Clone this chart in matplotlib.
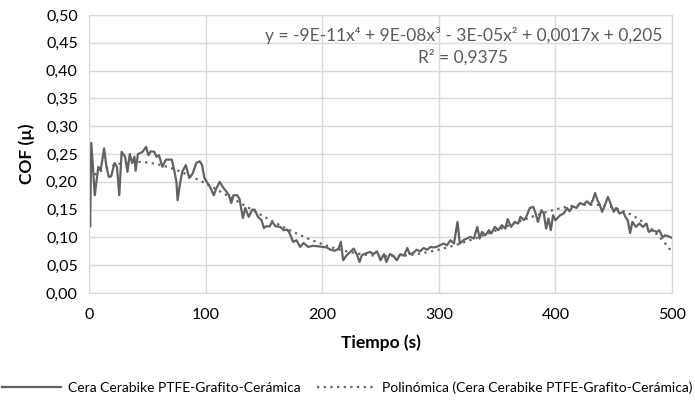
import numpy as np
import matplotlib
matplotlib.use("Agg")
import matplotlib.pyplot as plt
from matplotlib.ticker import FuncFormatter

plt.rcParams['font.family'] = ['Lato', 'DejaVu Sans']

# datos
tiempo = [0, 1, 2, 5, 8, 10, 13, 15, 17, 19, 22, 24, 26, 28, 31, 33, 35, 37, 39, 40,
          42, 46, 49, 51, 53, 56, 58, 60, 63, 66, 71, 73, 75, 76, 78, 80, 83, 86, 89, 92,
          95, 97, 99, 101, 104, 107, 109, 112, 115, 118, 120, 122, 124, 127, 129, 132, 134, 137, 140, 142,
          145, 148, 150, 152, 155, 157, 160, 164, 167, 170, 172, 175, 178, 181, 184, 188, 192, 197, 200, 204,
          207, 211, 214, 216, 218, 221, 224, 227, 230, 232, 234, 237, 241, 244, 247, 250, 253, 255, 258, 261,
          264, 267, 270, 273, 275, 278, 281, 284, 287, 290, 293, 295, 298, 301, 304, 307, 310, 313, 316, 318,
          321, 324, 327, 330, 333, 335, 337, 340, 343, 345, 348, 351, 354, 357, 359, 362, 365, 368, 370, 373,
          375, 378, 381, 383, 385, 388, 390, 392, 394, 396, 398, 400, 404, 407, 410, 412, 415, 418, 421, 424,
          427, 430, 432, 434, 436, 438, 440, 442, 445, 447, 450, 452, 455, 458, 460, 462, 464, 466, 469, 472,
          475, 478, 480, 483, 487, 489, 492, 494, 497, 500]
cof = [0.207, 0.12, 0.27, 0.176, 0.227, 0.22, 0.26, 0.227, 0.209, 0.21, 0.234, 0.227, 0.176, 0.254, 0.245, 0.218, 0.25, 0.234, 0.245, 0.22,
       0.25, 0.254, 0.263, 0.248, 0.255, 0.254, 0.245, 0.248, 0.227, 0.24, 0.24, 0.222, 0.2, 0.167, 0.196, 0.218, 0.23, 0.207, 0.215, 0.234,
       0.237, 0.23, 0.207, 0.2, 0.19, 0.176, 0.187, 0.2, 0.19, 0.182, 0.176, 0.162, 0.176, 0.176, 0.17, 0.135, 0.153, 0.137, 0.15, 0.15,
       0.137, 0.131, 0.117, 0.12, 0.12, 0.128, 0.12, 0.119, 0.113, 0.114, 0.108, 0.092, 0.095, 0.083, 0.09, 0.083, 0.085, 0.084, 0.083, 0.082,
       0.078, 0.076, 0.08, 0.092, 0.059, 0.068, 0.074, 0.08, 0.068, 0.056, 0.068, 0.071, 0.074, 0.07, 0.075, 0.059, 0.07, 0.056, 0.07, 0.067,
       0.059, 0.07, 0.067, 0.081, 0.07, 0.072, 0.078, 0.075, 0.081, 0.078, 0.083, 0.082, 0.083, 0.086, 0.089, 0.086, 0.095, 0.089, 0.128, 0.089,
       0.095, 0.098, 0.101, 0.098, 0.119, 0.098, 0.11, 0.104, 0.113, 0.107, 0.119, 0.113, 0.122, 0.116, 0.133, 0.119, 0.128, 0.125, 0.137, 0.131,
       0.137, 0.153, 0.155, 0.143, 0.128, 0.149, 0.143, 0.116, 0.134, 0.113, 0.14, 0.131, 0.14, 0.143, 0.153, 0.147, 0.156, 0.153, 0.162, 0.159,
       0.165, 0.159, 0.167, 0.18, 0.167, 0.159, 0.146, 0.156, 0.173, 0.162, 0.146, 0.153, 0.143, 0.146, 0.137, 0.131, 0.108, 0.128, 0.119, 0.125,
       0.119, 0.125, 0.11, 0.113, 0.11, 0.113, 0.1, 0.104, 0.102, 0.099]

serie = "Cera Cerabike PTFE-Grafito-Cerámica"
ecuacion = "y = -9E-11x⁴ + 9E-08x³ - 3E-05x² + 0,0017x + 0,205"
r2 = "R² = 0,9375"

gris = "#626262"
rejilla = "#d9d9d9"

# tendencia polinomica de grado 4 (como la de Excel)
coef = np.polyfit(tiempo, cof, 4)
xt = np.linspace(0, 500, 200)
yt = np.polyval(coef, xt)

fig = plt.figure(figsize=(6.95, 4.07), dpi=100)
ax = fig.add_axes([0.128, 0.280, 0.839, 0.683])

ax.plot(tiempo, cof, color=gris, lw=1.6, label=serie)
ax.plot(xt, yt, color=gris, lw=1.6, ls=(0, (1, 2)), label="Polinómica (" + serie + ")")

ax.set_xlim(0, 500)
ax.set_ylim(0, 0.5)
ax.set_xticks(np.arange(0, 501, 100))
ax.set_yticks(np.arange(0, 0.501, 0.05))
ax.yaxis.set_major_formatter(FuncFormatter(lambda v, p: f"{v:.2f}".replace(".", ",")))
ax.grid(True, color=rejilla, lw=1)
ax.set_axisbelow(True)
for s in ax.spines.values():
    s.set_color(rejilla)
ax.tick_params(length=0, labelsize=11.5, colors="#000000", pad=8)
ax.tick_params(axis="x", pad=11)

ax.set_xlabel("Tiempo (s)", fontsize=12.5, fontweight="bold", labelpad=9)
ax.set_ylabel("COF (µ)", fontsize=12.5, fontweight="bold", labelpad=8)

ax.text(0.642, 0.928, ecuacion, transform=ax.transAxes, ha="center", va="center",
        fontsize=12.5, color="#595959")
ax.text(0.642, 0.849, r2, transform=ax.transAxes, ha="center", va="center",
        fontsize=12.5, color="#595959")

fig.legend(loc="center", bbox_to_anchor=(0.5, 0.047), ncol=2, frameon=False,
           fontsize=10, handlelength=4.2, columnspacing=1.2, handletextpad=0.5)

fig.savefig("out.png", dpi=100)
